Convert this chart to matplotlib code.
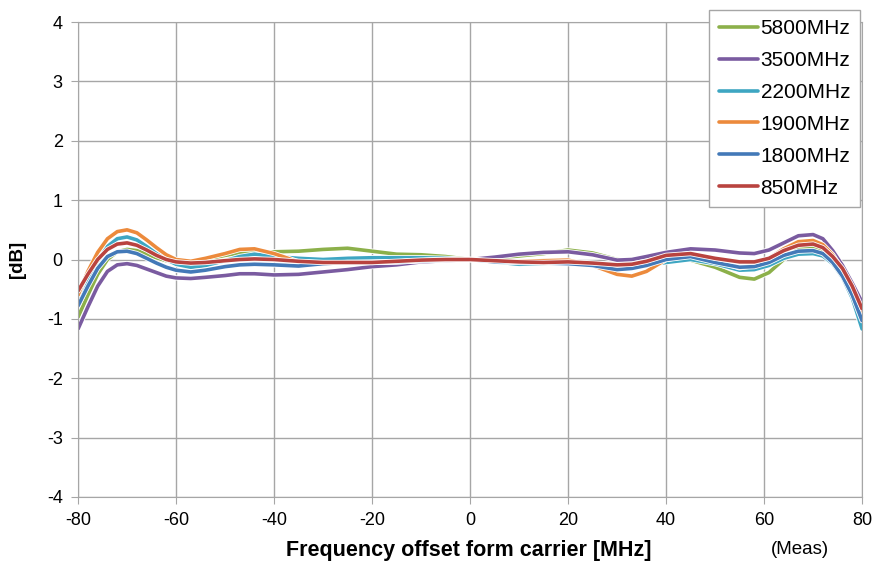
import matplotlib.pyplot as plt
import matplotlib.patheffects as pe

plt.rcParams["font.family"] = ["Liberation Sans", "DejaVu Sans"]
plt.rcParams["axes.unicode_minus"] = False

# frequency offset [MHz]
offset = [-80, -78, -76, -74, -72, -70, -68, -66, -64, -62, -60, -57, -54, -50, -47, -44,
          -40, -35, -30, -25, -20, -15, -10, -5, 0, 5, 10, 15, 20, 25, 30, 33, 36, 40,
          45, 50, 55, 58, 61, 64, 67, 70, 72, 74, 76, 78, 80]

db_5800 = [-0.97, -0.6, -0.25, 0.0, 0.13, 0.17, 0.15, 0.09, 0.03, -0.02, -0.06, -0.05, 0.0,
           0.07, 0.11, 0.12, 0.13, 0.14, 0.17, 0.19, 0.14, 0.09, 0.08, 0.05, 0.0, 0.02, 0.06,
           0.1, 0.16, 0.11, 0.0, -0.03, -0.02, 0.02, -0.01, -0.13, -0.3, -0.33, -0.22, 0.0,
           0.18, 0.22, 0.15, -0.02, -0.25, -0.55, -0.95]
db_3500 = [-1.17, -0.8, -0.45, -0.2, -0.09, -0.07, -0.1, -0.16, -0.22, -0.28, -0.31, -0.32,
           -0.3, -0.27, -0.24, -0.24, -0.26, -0.25, -0.21, -0.17, -0.12, -0.09, -0.04, -0.02,
           0.0, 0.04, 0.09, 0.12, 0.13, 0.08, -0.01, 0.0, 0.05, 0.12, 0.18, 0.16, 0.11, 0.1,
           0.16, 0.28, 0.4, 0.42, 0.35, 0.15, -0.1, -0.4, -0.72]
db_2200 = [-0.7, -0.35, -0.02, 0.22, 0.35, 0.38, 0.33, 0.22, 0.1, 0.0, -0.08, -0.13, -0.1,
           -0.02, 0.05, 0.09, 0.05, 0.02, 0.0, 0.02, 0.03, 0.03, 0.03, 0.02, 0.0, -0.04, -0.08,
           -0.07, -0.05, -0.07, -0.15, -0.15, -0.1, -0.05, 0.0, -0.07, -0.18, -0.17, -0.1,
           0.02, 0.09, 0.1, 0.06, -0.07, -0.3, -0.65, -1.17]
db_1900 = [-0.6, -0.2, 0.12, 0.35, 0.47, 0.5, 0.45, 0.33, 0.2, 0.08, 0.0, -0.03, 0.02, 0.1,
           0.17, 0.18, 0.1, -0.04, -0.06, -0.05, -0.05, -0.04, -0.02, 0.0, 0.0, -0.03, -0.03,
           -0.02, -0.01, -0.1, -0.25, -0.28, -0.2, 0.0, 0.07, -0.02, -0.14, -0.1, 0.02, 0.18,
           0.3, 0.32, 0.25, 0.08, -0.18, -0.5, -0.9]
db_1800 = [-0.78, -0.45, -0.15, 0.05, 0.13, 0.14, 0.1, 0.02, -0.06, -0.13, -0.18, -0.21,
           -0.18, -0.12, -0.09, -0.08, -0.09, -0.11, -0.07, -0.05, -0.05, -0.04, -0.02, -0.01,
           0.0, -0.04, -0.05, -0.06, -0.07, -0.1, -0.17, -0.15, -0.1, 0.0, 0.05, -0.05, -0.13,
           -0.12, -0.05, 0.07, 0.14, 0.15, 0.1, -0.05, -0.28, -0.6, -1.03]
db_850 = [-0.53, -0.25, 0.0, 0.17, 0.26, 0.28, 0.24, 0.16, 0.07, 0.0, -0.04, -0.06, -0.05,
          -0.02, 0.0, 0.01, 0.0, -0.03, -0.05, -0.05, -0.05, -0.03, -0.01, 0.0, 0.0, -0.02,
          -0.04, -0.05, -0.04, -0.06, -0.09, -0.08, -0.03, 0.07, 0.1, 0.02, -0.04, -0.04,
          0.02, 0.15, 0.24, 0.26, 0.2, 0.05, -0.15, -0.45, -0.83]

labels = ["5800MHz", "3500MHz", "2200MHz", "1900MHz", "1800MHz", "850MHz"]
series = [db_5800, db_3500, db_2200, db_1900, db_1800, db_850]
colors = ["#8cb04a", "#7a5ba0", "#3ea6c2", "#ec8a3c", "#4379b8", "#b9433f"]

fig = plt.figure(figsize=(8.77, 5.66), dpi=100)
ax = fig.add_axes([0.089, 0.122, 0.894, 0.839])

for vals, lab, col in zip(series, labels, colors):
    ax.plot(offset, vals, color=col, lw=2.6, label=lab, solid_capstyle="round",
            path_effects=[pe.Stroke(linewidth=3.8, foreground="white"), pe.Normal()])

ax.set_xlim(-80, 80)
ax.set_ylim(-4, 4)
ax.set_xticks(range(-80, 81, 20))
ax.set_yticks(range(-4, 5))
ax.grid(True, color="#a6a6a6", lw=1)
for s in ax.spines.values():
    s.set_color("#a6a6a6")
ax.tick_params(labelsize=13, length=5, color="#a6a6a6", pad=6)
ax.set_xlabel("Frequency offset form carrier [MHz]", fontsize=15.5, fontweight="bold")
ax.xaxis.set_label_coords(0.498, -0.09)
ax.set_ylabel("[dB]", fontsize=13.5, fontweight="bold")
ax.yaxis.set_label_coords(-0.066, 0.5)
fig.text(0.912, 0.022, "(Meas)", fontsize=13.5, ha="center")

leg = fig.legend(loc="upper left", bbox_to_anchor=(0.809, 0.983), fontsize=15,
                 fancybox=False, edgecolor="#a6a6a6", framealpha=1, handlelength=1.9,
                 handletextpad=0.1, labelspacing=0.62, borderpad=0.45, borderaxespad=0)
leg.get_frame().set_linewidth(1)

fig.savefig("out.png", dpi=100)
plt.close(fig)
